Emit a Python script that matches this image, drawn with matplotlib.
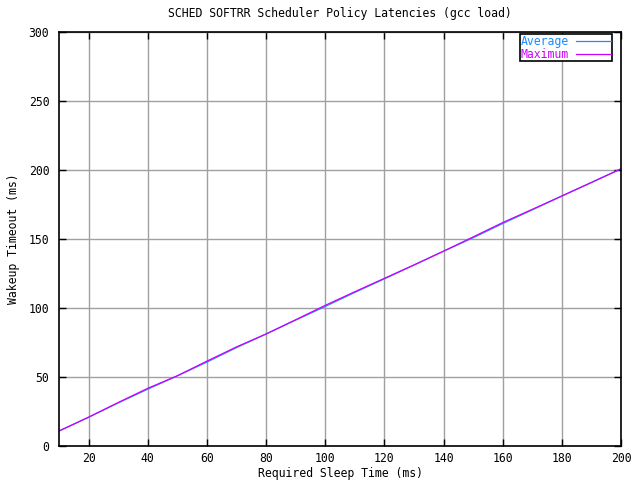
import matplotlib
matplotlib.use("Agg")
import matplotlib.pyplot as plt

# sleep time requested (ms) vs. measured wakeup timeout (ms)
sleep_ms = [10, 20, 30, 40, 50, 60, 70, 80, 90, 100,
            110, 120, 130, 140, 150, 160, 170, 180, 190, 200]
average = [10.8, 20.8, 31.2, 41.2, 50.8, 60.8, 71.3, 81.1, 91.2, 101.1,
           111.3, 121.1, 131.1, 141.1, 150.9, 161.2, 171.1, 181.1, 190.9, 200.8]
maximum = [10.9, 20.9, 31.5, 41.8, 50.9, 61.5, 71.8, 81.2, 91.5, 101.9,
           111.8, 121.5, 131.2, 141.2, 151.5, 161.9, 171.5, 181.2, 191.0, 200.9]

xticks = list(range(20, 201, 20))
yticks = list(range(0, 301, 50))

fs = 8.3
plt.rcParams["font.family"] = ["DejaVu Sans Mono"]
plt.rcParams["font.size"] = fs

fig = plt.figure(figsize=(6.4, 4.8), dpi=100)
ax = fig.add_axes([59 / 640, 34 / 480, 562 / 640, 414 / 480])

ax.plot(sleep_ms, average, color="#1a8cff", lw=0.9, label="Average")
ax.plot(sleep_ms, maximum, color="#cc00ff", lw=0.9, label="Maximum")

ax.set_xlim(10, 200)
ax.set_ylim(0, 300)
ax.set_xticks(xticks)
ax.set_yticks(yticks)
ax.grid(True, color="#a0a0a0", lw=1)
ax.set_axisbelow(True)
ax.tick_params(direction="in", top=True, right=True, length=5, width=1,
               labelsize=fs)
ax.tick_params(axis="x", pad=4)
ax.tick_params(axis="y", pad=7)
for s in ax.spines.values():
    s.set_linewidth(1.2)

ax.set_title("SCHED SOFTRR Scheduler Policy Latencies (gcc load)",
             fontsize=fs, pad=11)
ax.set_xlabel("Required Sleep Time (ms)", fontsize=fs, labelpad=2)
ax.set_ylabel("Wakeup Timeout (ms)", fontsize=fs, labelpad=6)

leg = ax.legend(loc="upper right", bbox_to_anchor=(612 / 640, 1 - 34 / 480),
                bbox_transform=fig.transFigure, borderaxespad=0,
                markerfirst=False, labelcolor="linecolor",
                fancybox=False, framealpha=1, edgecolor="black",
                borderpad=0.05, handlelength=3.1, handletextpad=0.6,
                labelspacing=0.0, fontsize=fs)
leg.get_frame().set_linewidth(1.2)

fig.savefig("out.png", dpi=100)
